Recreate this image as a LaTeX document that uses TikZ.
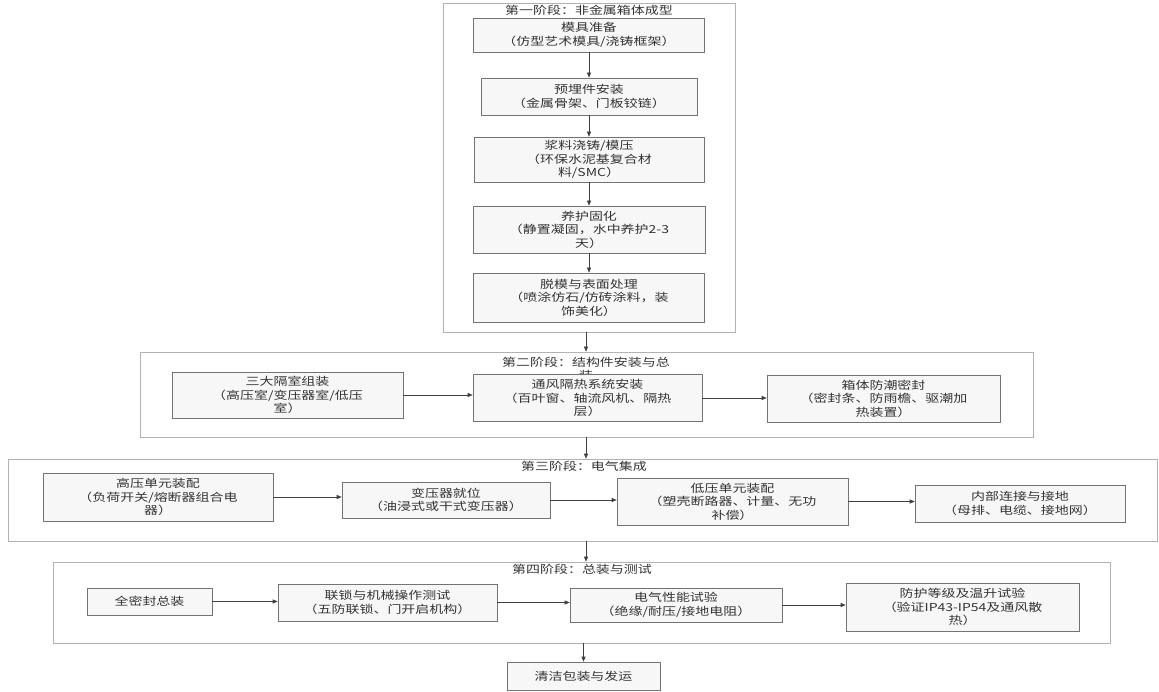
\documentclass[tikz,border=0pt]{standalone}
\usepackage{fontspec}
\setmainfont[FakeStretch=1.27]{Noto Sans CJK SC}
\usetikzlibrary{arrows.meta}
\begin{document}
\begin{tikzpicture}[x=1pt,y=-1pt,
  font=\fontsize{11}{13.5}\selectfont,
  box/.style={draw=black!55, fill=black!3, line width=0.6pt, align=center, inner sep=0pt, text=black!80},
  frame/.style={draw=black!30, line width=0.6pt, inner sep=0pt},
  lbl/.style={align=center, text=black!80, inner sep=0pt},
  arr/.style={draw=black!75, line width=0.6pt, -{Triangle[length=5pt,width=4pt]}}]
\useasboundingbox (0,0) rectangle (1159,692);
\fill[white] (0,0) rectangle (1159,692);
\coordinate (sp) at (586,0);
% clusters
\node[frame, minimum width=292pt, minimum height=329pt] (c1) at (589,167.5) {};
\node[frame, minimum width=893pt, minimum height=85pt] (c2) at (586.5,394.5) {};
\node[frame, minimum width=1149pt, minimum height=82pt] (c3) at (582.5,500) {};
\node[frame, minimum width=1057pt, minimum height=81pt] (c4) at (581.5,602.5) {};
% cluster labels
\node[lbl] (l1) at (589,10) {第一阶段：非金属箱体成型};
\node[lbl] (l2) at (586,369) {第二阶段：结构件安装与总\\装};
\node[lbl] (l3) at (584,466) {第三阶段：电气集成};
\node[lbl] (l4) at (582,569) {第四阶段：总装与测试};
% stage 1
\node[box, minimum width=231pt, minimum height=34pt] (m1) at (589,35) {模具准备\\（仿型艺术模具/浇铸框架）};
\node[box, minimum width=216pt, minimum height=37pt] (m2) at (589,96.5) {预埋件安装\\（金属骨架、门板铰链）};
\node[box, minimum width=230pt, minimum height=45pt] (m3) at (589,159.5) {浆料浇铸/模压\\（环保水泥基复合材\\料/SMC）};
\node[box, minimum width=232pt, minimum height=47pt] (m4) at (589,229.5) {养护固化\\（静置凝固，水中养护2-3\\天）};
\node[box, minimum width=231pt, minimum height=49pt] (m5) at (589,297.5) {脱模与表面处理\\（喷涂仿石/仿砖涂料，装\\饰美化）};
% stage 2
\node[box, minimum width=231pt, minimum height=46pt] (s1) at (287.5,395) {三大隔室组装\\（高压室/变压器室/低压\\室）};
\node[box, minimum width=229pt, minimum height=47pt] (s2) at (587.5,398) {通风隔热系统安装\\（百叶窗、轴流风机、隔热\\层）};
\node[box, minimum width=233pt, minimum height=47pt] (s3) at (883.5,398.5) {箱体防潮密封\\（密封条、防雨檐、驱潮加\\热装置）};
% stage 3
\node[box, minimum width=230pt, minimum height=48pt] (t1) at (158,497) {高压单元装配\\（负荷开关/熔断器组合电\\器）};
\node[box, minimum width=208pt, minimum height=36pt] (t2) at (446,500) {变压器就位\\（油浸式或干式变压器）};
\node[box, minimum width=231pt, minimum height=47pt] (t3) at (732.5,501.5) {低压单元装配\\（塑壳断路器、计量、无功\\补偿）};
\node[box, minimum width=210pt, minimum height=37pt] (t4) at (1020,503.5) {内部连接与接地\\（母排、电缆、接地网）};
% stage 4
\node[box, minimum width=125pt, minimum height=27pt] (u1) at (149.5,601.5) {全密封总装};
\node[box, minimum width=219pt, minimum height=37pt] (u2) at (387.5,602.5) {联锁与机械操作测试\\（五防联锁、门开启机构）};
\node[box, minimum width=212pt, minimum height=34pt] (u3) at (676,605) {电气性能试验\\（绝缘/耐压/接地电阻）};
\node[box, minimum width=233pt, minimum height=48pt] (u4) at (962.5,607) {防护等级及温升试验\\（验证IP43-IP54及通风散\\热）};
% final
\node[box, minimum width=153pt, minimum height=28pt] (v) at (583.5,676) {清洁包装与发运};
% arrows
\draw[arr] (m1) -- (m2);
\draw[arr] (m2) -- (m3);
\draw[arr] (m3) -- (m4);
\draw[arr] (m4) -- (m5);
\draw[arr] (c1.south -| sp) -- (c2.north -| sp);
\draw[arr] (c2.south -| sp) -- (c3.north -| sp);
\draw[arr] (c3.south -| sp) -- (c4.north -| sp);
\draw[arr] (c4.south -| v) -- (v);
\draw[arr] (s1.east) -- (s1.east -| s2.west);
\draw[arr] (s2.east) -- (s2.east -| s3.west);
\draw[arr] (t1.east) -- (t1.east -| t2.west);
\draw[arr] (t2.east) -- (t2.east -| t3.west);
\draw[arr] (t3.east) -- (t3.east -| t4.west);
\draw[arr] (u1.east) -- (u1.east -| u2.west);
\draw[arr] (u2.east) -- (u2.east -| u3.west);
\draw[arr] (u3.east) -- (u3.east -| u4.west);
\end{tikzpicture}
\end{document}
